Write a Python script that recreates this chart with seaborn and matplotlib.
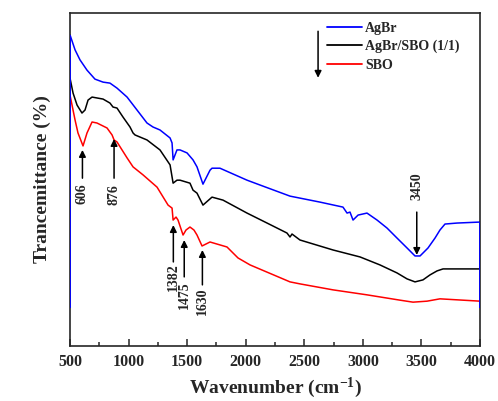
import pandas as pd
import seaborn as sns
import matplotlib.pyplot as plt
from matplotlib.ticker import MultipleLocator
from matplotlib.lines import Line2D

# FTIR spectra (arbitrary transmittance units 0-100)
agbr_wn = [500, 543, 585, 645, 713, 782, 841, 901, 987, 1072, 1157, 1208, 1268, 1354,
           1371, 1380, 1413, 1439, 1499, 1550, 1584, 1635, 1695, 1712, 1780, 2011,
           2148, 2378, 2634, 2830, 2865, 2890, 2916, 2959, 3035, 3121, 3206, 3291,
           3377, 3445, 3488, 3556, 3616, 3658, 3701, 3804, 4000]
agbr_t = [93.5, 89.0, 86.0, 82.9, 80.2, 79.3, 79.0, 77.5, 74.8, 70.9, 67.0, 65.8, 64.9, 62.5,
          61.0, 55.9, 58.9, 58.9, 58.0, 55.9, 53.8, 48.6, 52.8, 53.4, 53.4, 49.8,
          48.0, 45.0, 43.2, 41.7, 39.9, 40.2, 37.8, 39.3, 39.9, 37.8, 35.4, 32.4,
          29.4, 27.0, 27.0, 29.4, 32.4, 34.8, 36.6, 36.9, 37.2]

comp_wn = [500, 526, 560, 602, 628, 654, 688, 782, 841, 867, 901, 952, 1012, 1038, 1055,
           1157, 1268, 1354, 1380, 1413, 1439, 1524, 1550, 1584, 1635, 1712, 1806,
           2011, 2182, 2352, 2378, 2395, 2463, 2745, 2976, 3146, 3291, 3377, 3445,
           3513, 3573, 3633, 3684, 4000]
comp_t = [80.5, 76.0, 72.4, 70.0, 70.9, 73.9, 74.8, 74.2, 73.0, 71.8, 71.5, 68.8, 65.8, 64.0, 63.4,
          61.9, 58.9, 54.4, 48.9, 49.8, 49.8, 48.9, 46.8, 45.9, 42.3, 44.7, 43.8,
          39.9, 36.9, 33.9, 32.7, 33.6, 31.8, 28.8, 26.7, 24.3, 21.9, 20.1, 19.2,
          19.8, 21.3, 22.5, 23.1, 23.1]

sbo_wn = [500, 543, 568, 611, 645, 688, 730, 816, 859, 876, 901, 987, 1038, 1123, 1243,
          1337, 1371, 1380, 1405, 1422, 1465, 1490, 1524, 1558, 1584, 1627, 1661, 1695,
          1840, 1934, 2037, 2378, 2463, 2745, 3035, 3317, 3428, 3548, 3658, 4000]
sbo_t = [75.4, 67.9, 64.0, 60.1, 64.0, 67.3, 67.0, 65.5, 63.4, 61.9, 61.3, 56.5, 53.8, 51.4, 47.7,
         42.3, 41.4, 37.8, 38.7, 37.8, 33.3, 34.8, 35.7, 34.8, 33.3, 30.0, 30.6, 31.2,
         29.7, 26.4, 24.3, 19.2, 18.6, 16.8, 15.3, 13.7, 13.1, 13.4, 14.1, 13.4]

series_names = ["AgBr", "AgBr/SBO (1/1)", "SBO"]
series_colors = ["#0000FF", "#000000", "#FF0000"]

peak_labels = ["606", "876", "1382", "1475", "1630", "3450"]
peak_wn = [606, 876, 1382, 1475, 1630, 3460]

# arrow tip, arrow tail and text centre (y data units) for each peak label
peak_tip = [58.9, 62.2, 36.3, 31.8, 28.8, 27.3]
peak_tail = [50.4, 50.4, 25.2, 20.7, 18.3, 40.2]
peak_text = [45.6, 45.6, 20.7, 15.2, 13.4, 48.0]

baseline = 11.3  # level the AgBr trace drops to at the plot edges

sns.set_style("ticks")
plt.rcParams["font.family"] = ["Liberation Serif", "DejaVu Serif"]
plt.rcParams["font.weight"] = "bold"
plt.rcParams["mathtext.fontset"] = "custom"
plt.rcParams["mathtext.rm"] = "Liberation Serif:bold"
plt.rcParams["mathtext.bf"] = "Liberation Serif:bold"
plt.rcParams["mathtext.default"] = "rm"

fig = plt.figure(figsize=(4.98, 4.01), dpi=100)
ax = fig.add_axes([0.1406, 0.1379, 0.8233, 0.8289])

frames = []
for name, wn, t in zip(series_names, [agbr_wn, comp_wn, sbo_wn], [agbr_t, comp_t, sbo_t]):
    frames.append(pd.DataFrame({"wn": wn, "t": t, "sample": name}))
df = pd.concat(frames, ignore_index=True)

sns.lineplot(data=df, x="wn", y="t", hue="sample", hue_order=series_names,
             palette=series_colors, estimator=None, sort=False, lw=1.1,
             legend=False, ax=ax)

ax.vlines([agbr_wn[0], agbr_wn[-1]], baseline, [agbr_t[0], agbr_t[-1]],
          color=series_colors[0], lw=1.3, zorder=3)

for lab, wn, tip, tail, tc in zip(peak_labels, peak_wn, peak_tip, peak_tail, peak_text):
    ax.annotate("", xy=(wn, tip), xytext=(wn, tail),
                arrowprops=dict(arrowstyle="-|>", color="black", lw=1.1,
                                mutation_scale=10, shrinkA=0, shrinkB=0))
    ax.text(wn, tc, lab, rotation=90, ha="center", va="center", fontsize=10,
            fontweight="bold")

handles = [Line2D([], [], color=c, lw=1.3) for c in series_colors]
ax.legend(handles, series_names, loc="upper left", bbox_to_anchor=(0.627, 0.975),
          frameon=False, fontsize=10, handlelength=2.5, handletextpad=0.25,
          labelspacing=0.38, borderpad=0, borderaxespad=0)
ax.annotate("", xy=(0.605, 0.806), xytext=(0.605, 0.946), xycoords="axes fraction",
            arrowprops=dict(arrowstyle="-|>", color="black", lw=1.1,
                            mutation_scale=10, shrinkA=0, shrinkB=0))

ax.set_xlim(500, 4000)
ax.set_ylim(0, 100)
ax.xaxis.set_major_locator(MultipleLocator(500))
ax.xaxis.set_minor_locator(MultipleLocator(250))
ax.set_yticks([])
ax.tick_params(axis="x", which="major", direction="in", length=5, width=1.1,
               labelsize=11.5, pad=6)
ax.tick_params(axis="x", which="minor", direction="in", length=3, width=1.1)
for s in ax.spines.values():
    s.set_linewidth(1.2)
    s.set_visible(True)

ax.set_xlabel("Wavenumber (cm$^{-1}$)", fontsize=14, fontweight="bold", labelpad=4)
ax.set_ylabel("Trancemittance (%)", fontsize=14, fontweight="bold", labelpad=14)

fig.savefig("out.png", dpi=100)
